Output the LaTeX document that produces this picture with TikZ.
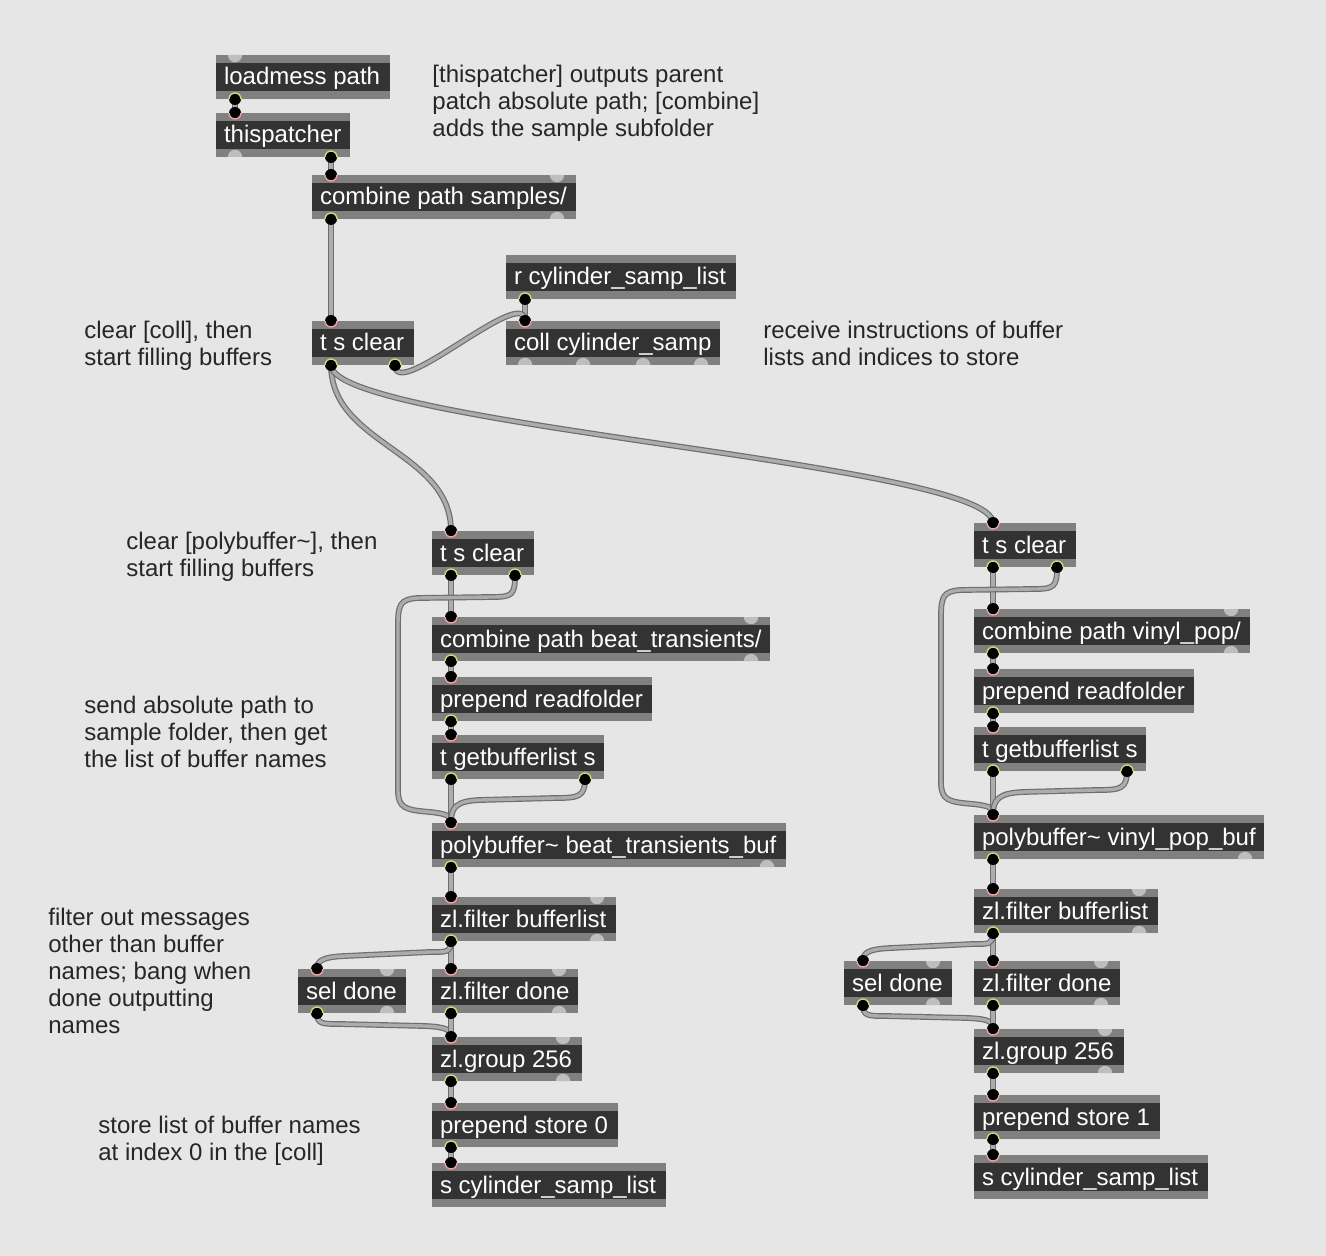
\documentclass[tikz,border=0pt]{standalone}
\usepackage{fontspec}
\setmainfont{Liberation Sans}
\definecolor{bgcol}{HTML}{E6E6E6}
\definecolor{boxband}{HTML}{808080}
\definecolor{boxdark}{HTML}{333333}
\definecolor{portgray}{HTML}{BEBEBE}
\definecolor{inring}{HTML}{E8A3A0}
\definecolor{outring}{HTML}{C8DC6E}
\definecolor{cordout}{HTML}{6E6E6E}
\definecolor{cordin}{HTML}{ACACAC}
\definecolor{cmtcol}{HTML}{262626}
\newdimen\mypx \mypx=0.5pt
\newcommand\bx[2]{\makebox[\dimexpr #1\mypx-8pt\relax][l]{#2}}
\newcommand\mports[1]{%
  \coordinate (#1-il) at ([xshift=9.5pt]#1.north west);
  \coordinate (#1-ir) at ([xshift=-9.5pt]#1.north east);
  \coordinate (#1-ol) at ([xshift=9.5pt]#1.south west);
  \coordinate (#1-or) at ([xshift=-9.5pt]#1.south east);}
\tikzset{
  mbox/.style={anchor=north west, rectangle, fill=boxband, inner xsep=4pt, inner ysep=0pt,
    outer sep=0pt, text=white, font=\fontsize{12}{14}\selectfont,
    text height=15pt, text depth=7pt,
    path picture={\fill[boxdark] ([yshift=-4pt]path picture bounding box.north west)
       rectangle ([yshift=4pt]path picture bounding box.south east);}},
  cmt/.style={anchor=base west, inner sep=0pt, text=cmtcol, font=\fontsize{12}{13.5}\selectfont},
  cord/.style={draw=cordout, line width=0.6pt, double=cordin, double distance=1.7pt},
  pin/.pic={\fill[black] (0,0) circle (3pt);
     \draw[inring, line width=0.7pt] (-3pt,0) arc[start angle=180, end angle=360, radius=3pt];},
  pout/.pic={\fill[black] (0,0) circle (3pt);
     \draw[outring, line width=0.7pt] (-3pt,0) arc[start angle=180, end angle=0, radius=3pt];},
  gin/.pic={\fill[portgray] (-3.6pt,0) arc[start angle=180, end angle=360, radius=3.6pt] -- cycle;},
  gout/.pic={\fill[portgray] (-3.6pt,0) arc[start angle=180, end angle=0, radius=3.6pt] -- cycle;},
}
\begin{document}
\begin{tikzpicture}[x=0.5pt, y=-0.5pt]
\useasboundingbox (0,0) rectangle (1326,1256);
\fill[bgcol] (0,0) rectangle (1326,1256);

% ---------- comments
\node[cmt] (c1) at (432,83) {\vtop{\hbox{[thispatcher] outputs parent}\hbox{patch absolute path; [combine]}\hbox{adds the sample subfolder}}};
\node[cmt] (c2) at (84,339) {\vtop{\hbox{clear [coll], then}\hbox{start filling buffers}}};
\node[cmt] (c3) at (763,339) {\vtop{\hbox{receive instructions of buffer}\hbox{lists and indices to store}}};
\node[cmt] (c4) at (126,549) {\vtop{\hbox{clear [polybuffer\textasciitilde], then}\hbox{start filling buffers}}};
\node[cmt] (c5) at (84,713) {\vtop{\hbox{send absolute path to}\hbox{sample folder, then get}\hbox{the list of buffer names}}};
\node[cmt] (c6) at (48,925) {\vtop{\hbox{filter out messages}\hbox{other than buffer}\hbox{names; bang when}\hbox{done outputting}\hbox{names}}};
\node[cmt] (c7) at (98,1133) {\vtop{\hbox{store list of buffer names}\hbox{at index 0 in the [coll]}}};

% ---------- top boxes
\node[mbox] (lm) at (216,55) {\bx{174}{loadmess path}}; \mports{lm}
\node[mbox] (tp) at (216,113) {\bx{134}{thispatcher}}; \mports{tp}
\node[mbox] (cps) at (312,175) {\bx{264}{combine path samples/}}; \mports{cps}
\node[mbox] (rcyl) at (506,255) {\bx{230}{r cylinder\_samp\_list}}; \mports{rcyl}
\node[mbox] (coll) at (506,321) {\bx{214}{coll cylinder\_samp}}; \mports{coll}
\node[mbox] (tsc) at (312,321) {\bx{102}{t s clear}}; \mports{tsc}

% ---------- left column
\node[mbox] (Lt) at (432,531) {\bx{102}{t s clear}}; \mports{Lt}
\node[mbox] (Lcomb) at (432,617) {\bx{338}{combine path beat\_transients/}}; \mports{Lcomb}
\node[mbox] (Lprep) at (432,677) {\bx{220}{prepend readfolder}}; \mports{Lprep}
\node[mbox] (Ltg) at (432,735) {\bx{172}{t getbufferlist s}}; \mports{Ltg}
\node[mbox] (Lpoly) at (432,823) {\bx{354}{polybuffer\textasciitilde{} beat\_transients\_buf}}; \mports{Lpoly}
\node[mbox] (Lzf) at (432,897) {\bx{184}{zl.filter bufferlist}}; \mports{Lzf}
\node[mbox] (Lsel) at (298,969) {\bx{108}{sel done}}; \mports{Lsel}
\node[mbox] (Lzd) at (432,969) {\bx{146}{zl.filter done}}; \mports{Lzd}
\node[mbox] (Lzg) at (432,1037) {\bx{150}{zl.group 256}}; \mports{Lzg}
\node[mbox] (Lps) at (432,1103) {\bx{186}{prepend store 0}}; \mports{Lps}
\node[mbox] (Ls) at (432,1163) {\bx{234}{s cylinder\_samp\_list}}; \mports{Ls}

% ---------- right column
\node[mbox] (Rt) at (974,523) {\bx{102}{t s clear}}; \mports{Rt}
\node[mbox] (Rcomb) at (974,609) {\bx{276}{combine path vinyl\_pop/}}; \mports{Rcomb}
\node[mbox] (Rprep) at (974,669) {\bx{220}{prepend readfolder}}; \mports{Rprep}
\node[mbox] (Rtg) at (974,727) {\bx{172}{t getbufferlist s}}; \mports{Rtg}
\node[mbox] (Rpoly) at (974,815) {\bx{290}{polybuffer\textasciitilde{} vinyl\_pop\_buf}}; \mports{Rpoly}
\node[mbox] (Rzf) at (974,889) {\bx{184}{zl.filter bufferlist}}; \mports{Rzf}
\node[mbox] (Rsel) at (844,961) {\bx{108}{sel done}}; \mports{Rsel}
\node[mbox] (Rzd) at (974,961) {\bx{146}{zl.filter done}}; \mports{Rzd}
\node[mbox] (Rzg) at (974,1029) {\bx{150}{zl.group 256}}; \mports{Rzg}
\node[mbox] (Rps) at (974,1095) {\bx{186}{prepend store 1}}; \mports{Rps}
\node[mbox] (Rs) at (974,1155) {\bx{234}{s cylinder\_samp\_list}}; \mports{Rs}

\coordinate (coll-o2) at ([xshift=38.5pt]coll.south west);
\coordinate (coll-o3) at ([xshift=68.5pt]coll.south west);

% ---------- cords, top
\draw[cord] (lm-ol) -- (tp-il);
\draw[cord] (tp-or) -- (cps-il);
\draw[cord] (cps-ol) -- (tsc-il);
\draw[cord] (rcyl-ol) -- (coll-il);
\draw[cord] (tsc-or) .. controls +(0,38) and +(0,-38) .. (coll-il);
\draw[cord] (tsc-ol) .. controls +(0,80) and +(0,-80) .. (Lt-il);
\draw[cord] (tsc-ol) .. controls +(0,60) and +(0,-60) .. (Rt-il);

% ---------- cords, left column
\draw[cord] (Lt-ol) -- (Lcomb-il);
\draw[cord] (Lt-or) .. controls (515,595) and (512,597) .. (492,597) -- (418,598)
   .. controls (400,599) and (398,605) .. (398,625) -- (398,790)
   .. controls (398,808) and (405,810) .. (430,812) .. controls (448,814) and (451,816) .. (Lpoly-il);
\draw[cord] (Lcomb-ol) -- (Lprep-il);
\draw[cord] (Lprep-ol) -- (Ltg-il);
\draw[cord] (Ltg-ol) -- (Lpoly-il);
\draw[cord] (Ltg-or) .. controls (585,797) and (578,798) .. (555,798) -- (480,800)
   .. controls (455,801) and (451,808) .. (Lpoly-il);
\draw[cord] (Lpoly-ol) -- (Lzf-il);
\draw[cord] (Lzf-ol) -- (Lzd-il);
\draw[cord] (Lzf-ol) .. controls (451,953) and (445,952) .. (430,952) -- (345,956)
   .. controls (320,957) and (317,962) .. (Lsel-il);
\draw[cord] (Lsel-ol) .. controls (317,1024) and (322,1024) .. (340,1024) -- (425,1026)
   .. controls (447,1027) and (451,1030) .. (Lzg-il);
\draw[cord] (Lzd-ol) -- (Lzg-il);
\draw[cord] (Lzg-ol) -- (Lps-il);
\draw[cord] (Lps-ol) -- (Ls-il);

% ---------- cords, right column
\draw[cord] (Rt-ol) -- (Rcomb-il);
\draw[cord] (Rt-or) .. controls (1057,587) and (1054,589) .. (1034,589) -- (961,590)
   .. controls (943,591) and (941,597) .. (941,617) -- (941,782)
   .. controls (941,800) and (948,802) .. (973,804) .. controls (991,806) and (993,808) .. (Rpoly-il);
\draw[cord] (Rcomb-ol) -- (Rprep-il);
\draw[cord] (Rprep-ol) -- (Rtg-il);
\draw[cord] (Rtg-ol) -- (Rpoly-il);
\draw[cord] (Rtg-or) .. controls (1127,789) and (1120,790) .. (1097,790) -- (1023,792)
   .. controls (998,793) and (993,800) .. (Rpoly-il);
\draw[cord] (Rpoly-ol) -- (Rzf-il);
\draw[cord] (Rzf-ol) -- (Rzd-il);
\draw[cord] (Rzf-ol) .. controls (993,945) and (988,944) .. (973,944) -- (891,948)
   .. controls (866,949) and (863,954) .. (Rsel-il);
\draw[cord] (Rsel-ol) .. controls (863,1016) and (868,1016) .. (886,1016) -- (968,1018)
   .. controls (990,1019) and (993,1022) .. (Rzg-il);
\draw[cord] (Rzd-ol) -- (Rzg-il);
\draw[cord] (Rzg-ol) -- (Rps-il);
\draw[cord] (Rps-ol) -- (Rs-il);

% ---------- ports
\foreach \p in {tp-il,cps-il,coll-il,tsc-il,
  Lt-il,Lcomb-il,Lprep-il,Ltg-il,Lpoly-il,Lzf-il,Lsel-il,Lzd-il,Lzg-il,Lps-il,Ls-il,
  Rt-il,Rcomb-il,Rprep-il,Rtg-il,Rpoly-il,Rzf-il,Rsel-il,Rzd-il,Rzg-il,Rps-il,Rs-il}
  \pic at (\p) {pin};
\foreach \p in {lm-ol,tp-or,cps-ol,rcyl-ol,tsc-ol,tsc-or,
  Lt-ol,Lt-or,Lcomb-ol,Lprep-ol,Ltg-ol,Ltg-or,Lpoly-ol,Lzf-ol,Lsel-ol,Lzd-ol,Lzg-ol,Lps-ol,
  Rt-ol,Rt-or,Rcomb-ol,Rprep-ol,Rtg-ol,Rtg-or,Rpoly-ol,Rzf-ol,Rsel-ol,Rzd-ol,Rzg-ol,Rps-ol}
  \pic at (\p) {pout};
\foreach \p in {lm-il,cps-ir,Lcomb-ir,Lzf-ir,Lsel-ir,Lzd-ir,Lzg-ir,
  Rcomb-ir,Rzf-ir,Rsel-ir,Rzd-ir,Rzg-ir}
  \pic at (\p) {gin};
\foreach \p in {tp-ol,cps-or,coll-ol,coll-o2,coll-o3,coll-or,
  Lcomb-or,Lpoly-or,Lzf-or,Lsel-or,Lzd-or,Lzg-or,
  Rcomb-or,Rpoly-or,Rzf-or,Rsel-or,Rzd-or,Rzg-or}
  \pic at (\p) {gout};
\end{tikzpicture}
\end{document}
